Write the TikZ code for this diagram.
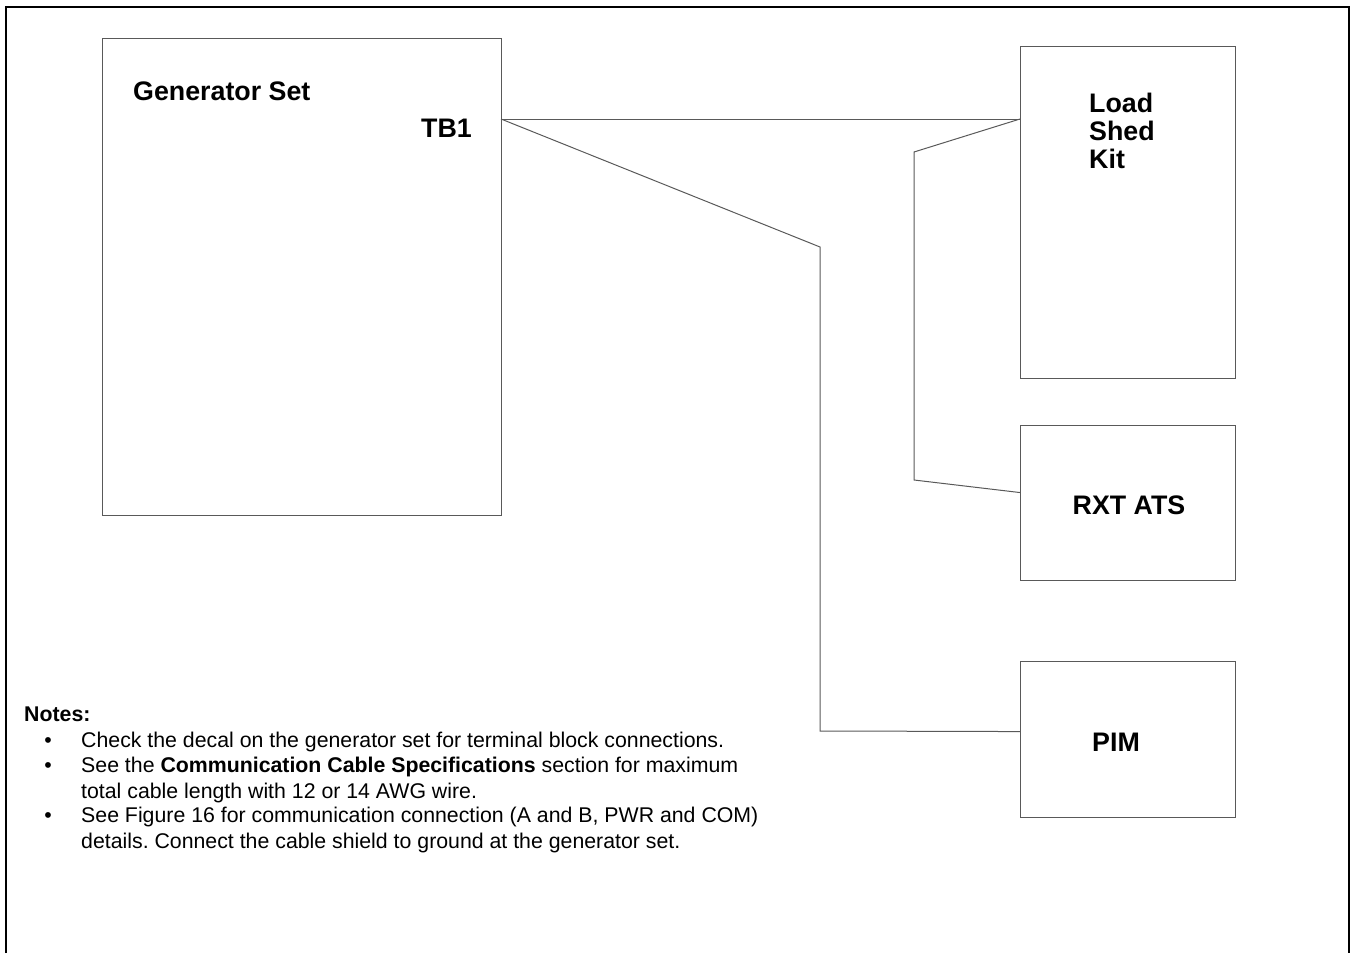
\documentclass[tikz,border=0pt]{standalone}
\usepackage{fontspec}
\setmainfont{Liberation Sans}
\frenchspacing
\tikzset{
  unit/.style={draw=black!65,line width=1.1pt,anchor=north west,inner sep=0pt},
  wire/.style={draw=black!65,line width=1pt},
  lbl/.style={font=\fontsize{26.8}{28}\selectfont\bfseries,inner sep=0pt},
  note/.style={font=\fontsize{21.3}{25.2}\selectfont,inner sep=0pt}
}
\begin{document}
\begin{tikzpicture}[x=1pt,y=-1pt]
\useasboundingbox (0,0) rectangle (1351,953);
\draw[line width=2pt] (6,953) -- (6,7) -- (1349,7) -- (1349,953);
% units
\node[unit,minimum width=399pt,minimum height=477pt] (gen) at (102,38) {};
\node[unit,minimum width=215pt,minimum height=332pt] (lsk) at (1020,46) {};
\node[unit,minimum width=215pt,minimum height=155pt] (rxt) at (1020,425) {};
\node[unit,minimum width=215pt,minimum height=156pt] (pim) at (1020,661) {};
\node[lbl,anchor=base west] (genlbl) at (133,100) {Generator Set};
\node[lbl,anchor=base east] (tblbl) at (472,137) {TB1};
\node[lbl,anchor=base west,align=left] (lsklbl) at (1089,168) {Load\\Shed\\Kit};
\node[lbl,anchor=base] (rxtlbl) at (1129,514) {RXT ATS};
\node[lbl,anchor=base] (pimlbl) at (1116,751) {PIM};
% wiring
\coordinate (tb1) at (501,119);
\draw[wire] (tb1) -- (lsk.west |- tb1);
\draw[wire] (tb1) -- (820,247) -- (820,731) -- ([yshift=8pt]pim.west);
\draw[wire] (lsk.west |- tb1) -- (914,152) -- (914,480) -- ([yshift=10.5pt]rxt.west);
% notes
\node[note,anchor=base west,font=\fontsize{21.3}{25.2}\selectfont\bfseries] (notes) at (24,721) {Notes:};
\node[note,anchor=base] (b1) at (48,747) {\textbullet};
\node[note,anchor=base] (b2) at (48,772) {\textbullet};
\node[note,anchor=base] (b3) at (48,822) {\textbullet};
\node[note,anchor=base west] (n1) at (81,747) {Check the decal on the generator set for terminal block connections.};
\node[note,anchor=base west,align=left] (n2) at (81,798) {See the \textbf{Communication Cable Specifications} section for maximum\\total cable length with 12 or 14 AWG wire.};
\node[note,anchor=base west,align=left] (n3) at (81,848) {See Figure 16 for communication connection (A and B, PWR and COM)\\details. Connect the cable shield to ground at the generator set.};
\end{tikzpicture}
\end{document}
